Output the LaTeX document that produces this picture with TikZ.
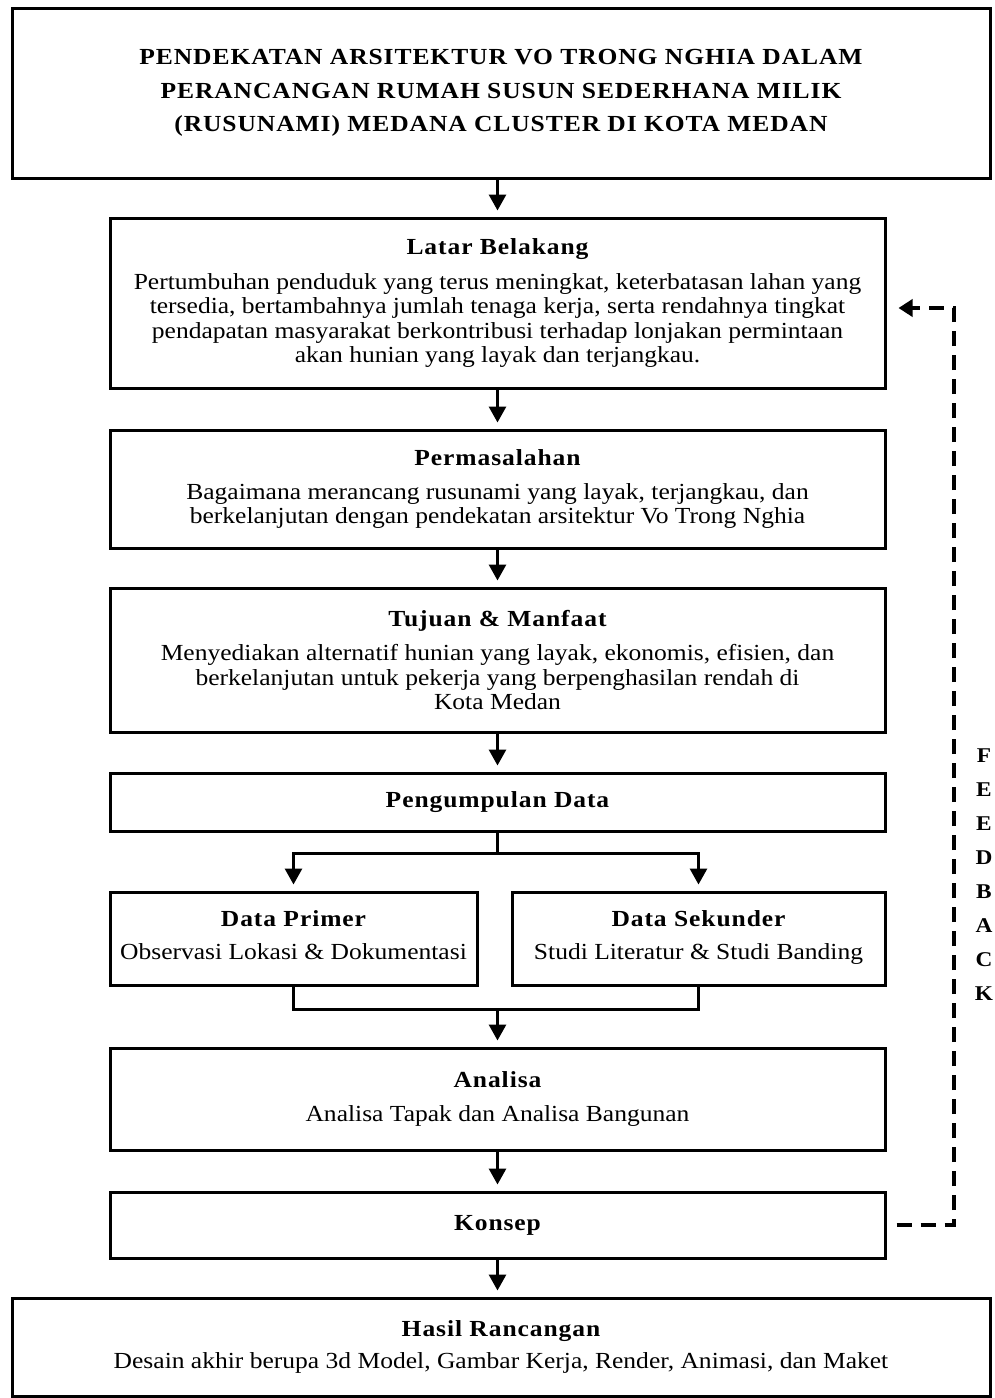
\documentclass[tikz,border=0pt]{standalone}
\usepackage{fontspec}
\setmainfont[FakeStretch=1.11]{Liberation Serif}
\usetikzlibrary{arrows.meta}
\tikzset{
  box/.style={draw, line width=3pt, align=center, inner sep=0pt,
    font=\fontsize{23}{24.5}\selectfont},
  arr/.style={line width=3pt, -{Triangle[width=17pt,length=16pt]}, shorten >=6pt},
  link/.style={line width=3pt},
  fbarr/.style={line width=4pt, dash pattern=on 15pt off 9pt,
    -{Triangle[width=17pt,length=14pt]}}
}
\newcommand{\hd}[1]{{\bfseries\addfontfeatures{LetterSpace=4}#1}}
\begin{document}
\begin{tikzpicture}[x=1pt,y=-1pt]
\useasboundingbox (0,0) rectangle (994,1398);

\node [box, minimum width=978, minimum height=170] (judul) at (501,93)
  {\hd{PENDEKATAN ARSITEKTUR VO TRONG NGHIA DALAM}\\[9pt]
   \hd{PERANCANGAN RUMAH SUSUN SEDERHANA MILIK}\\[9pt]
   \hd{(RUSUNAMI) MEDANA CLUSTER DI KOTA MEDAN}};

\node [box, minimum width=775, minimum height=170] (latar) at (497.5,303)
  {\hd{Latar Belakang}\\[10pt]
   Pertumbuhan penduduk yang terus meningkat, keterbatasan lahan yang\\
   tersedia, bertambahnya jumlah tenaga kerja, serta rendahnya tingkat\\
   pendapatan masyarakat berkontribusi terhadap lonjakan permintaan\\
   akan hunian yang layak dan terjangkau.};

\node [box, minimum width=775, minimum height=118] (masalah) at (497.5,489)
  {\hd{Permasalahan}\\[9pt]
   Bagaimana merancang rusunami yang layak, terjangkau, dan\\
   berkelanjutan dengan pendekatan arsitektur Vo Trong Nghia};

\node [box, minimum width=775, minimum height=144] (tujuan) at (497.5,660)
  {\hd{Tujuan \& Manfaat}\\[10pt]
   Menyediakan alternatif hunian yang layak, ekonomis, efisien, dan\\
   berkelanjutan untuk pekerja yang berpenghasilan rendah di\\
   Kota Medan};

\node [box, minimum width=775, minimum height=58] (data) at (497.5,802)
  {\hd{Pengumpulan Data}};

\node [box, minimum width=367, minimum height=93] (primer) at (293.5,938.5)
  {\hd{Data Primer}\\[8pt]
   Observasi Lokasi \& Dokumentasi\strut};
\node [box, minimum width=373, minimum height=93] (sekunder) at (698.5,938.5)
  {\hd{Data Sekunder}\\[8pt]
   Studi Literatur \& Studi Banding\strut};

\node [box, minimum width=775, minimum height=102] (analisa) at (497.5,1099)
  {\hd{Analisa}\\[10pt]
   Analisa Tapak dan Analisa Bangunan};

\node [box, minimum width=775, minimum height=66] (konsep) at (497.5,1225)
  {\hd{Konsep}};

\node [box, minimum width=978, minimum height=98] (hasil) at (501,1347)
  {\hd{Hasil Rancangan}\\[8pt]
   Desain akhir berupa 3d Model, Gambar Kerja, Render, Animasi, dan Maket};

% alur utama
\draw [arr] (judul.south -| latar.north) -- (latar);
\draw [arr] (latar) -- (masalah);
\draw [arr] (masalah) -- (tujuan);
\draw [arr] (tujuan) -- (data);
\draw [arr] (data.south) -- ++(0,21) -| (primer.north);
\draw [arr] (data.south) -- ++(0,21) -| (sekunder.north);
\draw [link] (primer.south) -- ++(0,23) coordinate (gabung) -| (sekunder.south);
\draw [arr] (gabung -| analisa.north) -- (analisa);
\draw [arr] (analisa) -- (konsep);
\draw [arr] (konsep.south) -- (hasil.north -| konsep.south);

% feedback
\draw [fbarr] ([xshift=10pt]konsep.east) -- ++(57,0) |- ([xshift=12pt,yshift=-5pt]latar.east);
\node [font=\bfseries\fontsize{21}{34}\selectfont, align=center] (fb) at (984,875)
  {F\\E\\E\\D\\B\\A\\C\\K};
\end{tikzpicture}
\end{document}
